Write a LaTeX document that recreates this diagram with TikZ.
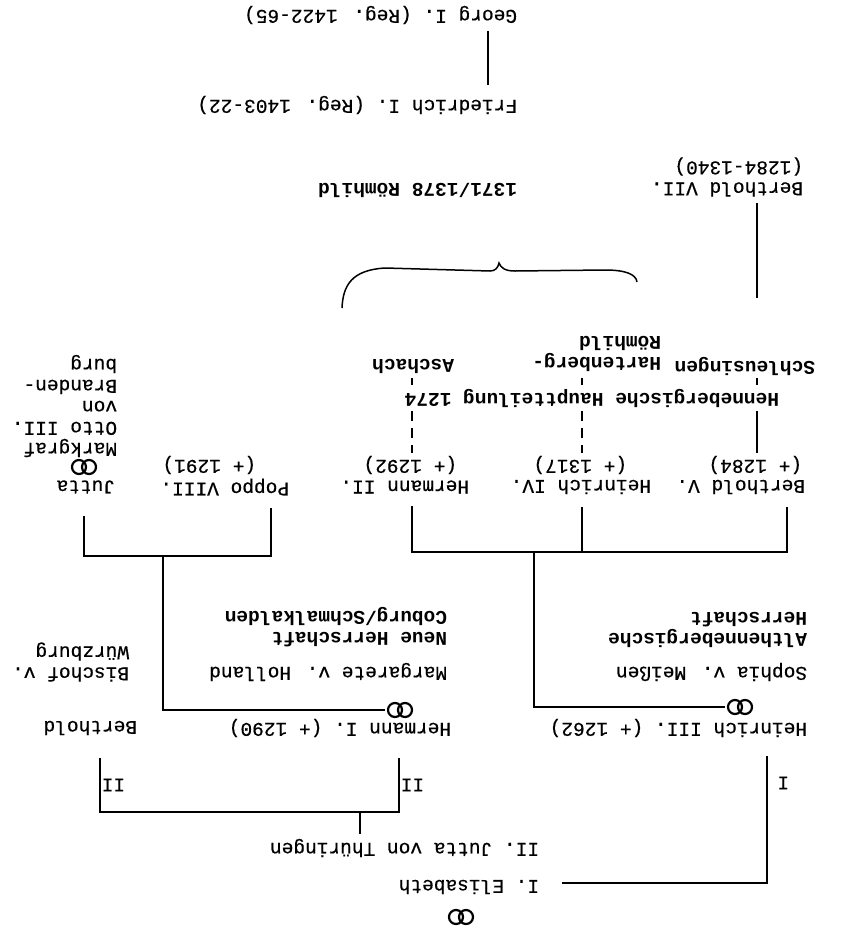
\documentclass[tikz,border=0pt]{standalone}
\usepackage{fontspec}
\newfontfamily\tw{Liberation Mono}[FakeBold=0.5]
\newfontfamily\twb{Liberation Mono Bold}
\usetikzlibrary{calc}

\begin{document}
\begin{tikzpicture}[x=1pt,y=-1pt,line width=1.8pt,
    pers/.style={rotate=180,anchor=west,inner sep=0pt,align=left,font=\tw\fontsize{19.5}{21}\selectfont},
    herr/.style={pers,font=\twb\fontsize{19.5}{21}\selectfont},
    teil/.style={dash pattern=on 10pt off 7pt},
    ehe/.pic={\draw[line width=2.2pt] (-5,0) circle (7) (5,0) circle (7);
      \coordinate (-w) at (-15,0);}]
  \useasboundingbox (0,0) rectangle (845,935);
  \fill[white] (0,0) rectangle (845,935);

  \node[pers] (georg) at (518,15) {Georg I. (Reg. 1422-65)};
  \node[pers] (friedrich) at (518,105) {Friedrich I. (Reg. 1403-22)};
  \node[herr] (rh) at (518,190) {1371/1378 Römhild};
  \coordinate (gx) at (488,0);
  \draw ($(georg.north-|gx)+(0,6)$) -- ($(friedrich.south-|gx)+(0,-10)$);

  \node[pers] (b7) at (804,177) {Berthold VII.\\(1284-1340)};
  \node[herr] (schl) at (816,366) {Schleusingen};
  \node[herr] (hart) at (662,354) {Hartenberg-\\Römhild};
  \node[herr] (asch) at (455,366) {Aschach};
  \node[herr] (teil) at (780,398) {Hennebergische Hauptteilung 1274};
  \coordinate (sx) at (757,0);
  \coordinate (hx) at (582,0);
  \coordinate (ax) at (412,0);
  \draw ($(b7.north-|sx)+(0,6)$) -- ($(schl.south-|sx)+(0,-58)$);
  \draw[line width=1.5pt] (342,308) .. controls (343,285) and (352,270) .. (385,268) -- (490,271)
    .. controls (495,271) and (498,268) .. (499,263) .. controls (501,268) and (505,271) .. (515,271)
    -- (605,270) .. controls (625,270) and (636,274) .. (637,282);
  \foreach \c in {sx,hx,ax}
    \draw ($(schl.north-|\c)+(0,2)$) -- ($(teil.south-|\c)+(0,-3)$);

  \foreach \nm/\x/\lab in {b5/806/{Berthold V.},h4/652/{Heinrich IV.},h2/470/{Hermann II.},p8/290/{Poppo VIII.},ju/116/{Jutta}}
    \node[pers] (\nm) at (\x,487) {\lab};
  \foreach \nm/\x/\lab in {y1284/803/{(+ 1284)},y1317/628/{(+ 1317)},y1292/458/{(+ 1292)},y1291/257/{(+ 1291)}}
    \node[pers] (\nm) at (\x,465) {\lab};
  \draw ($(teil.north-|sx)+(0,3)$) -- ($(y1284.south-|sx)+(0,-2)$);
  \draw[teil] ($(teil.north-|hx)+(0,3)$) -- ($(y1317.south-|hx)+(0,-2)$);
  \draw[teil] ($(teil.north-|ax)+(0,3)$) -- ($(y1292.south-|ax)+(0,-2)$);
  \pic (e1) at (84,467) {ehe};
  \node[pers] (mg) at (118,406) {Markgraf\\Otto III.\\von\\Branden-\\burg};

  \coordinate (bx) at (787,0);
  \coordinate (px) at (271,0);
  \coordinate (jux) at (84,0);
  \coordinate (bar1) at (0,552);
  \coordinate (bar2) at (0,556);
  \draw ($(b5.north-|bx)+(0,12)$) -- (bx|-bar1) -- (ax|-bar1) -- ($(h2.north-|ax)+(0,12)$);
  \draw ($(h4.north-|hx)+(0,12)$) -- (hx|-bar1);
  \draw ($(p8.north-|px)+(0,12)$) -- (px|-bar2) -- (jux|-bar2) -- ($(ju.north-|jux)+(0,22)$);

  \node[herr] (alt) at (808,630) {Althennebergische\\Herrschaft};
  \node[pers] (soph) at (808,672) {Sophia v. Meißen};
  \node[herr] (neu) at (448,627) {Neue Herrschaft\\Coburg/Schmalkalden};
  \node[pers] (marg) at (448,672) {Margarete v. Holland};
  \node[pers] (bisch) at (130,662) {Bischof v.\\Würzburg};
  \pic (er) at (740,707) {ehe};
  \pic (el) at (400,710) {ehe};
  \coordinate (dr) at (534,552);
  \coordinate (dl) at (163,556);
  \draw (dr) |- (er-w);
  \draw (dl) |- (el-w);

  \node[pers] (h3) at (808,728) {Heinrich III. (+ 1262)};
  \node[pers] (h1) at (452,728) {Hermann I. (+ 1290)};
  \node[pers] (bt) at (138,728) {Berthold};
  \node[pers] (jth) at (540,848) {II. Jutta von Thüringen};
  \node[pers] (elis) at (540,887) {I. Elisabeth};
  \pic (eb) at (461,917) {ehe};
  \node[pers] (n1) at (790,783) {I};
  \node[pers] (n2a) at (425,785) {II};
  \node[pers] (n2b) at (126,785) {II};
  \coordinate (h3x) at (767,0);
  \coordinate (h1x) at (399,0);
  \coordinate (btx) at (100,0);
  \coordinate (jx) at (360,0);
  \coordinate (jb) at (0,812);
  \draw ($(h3.north-|h3x)+(0,18)$) |- ($(elis.west)+(22,-4)$);
  \draw ($(h1.north-|h1x)+(0,20)$) -- (h1x|-jb) -- (btx|-jb) -- ($(bt.north-|btx)+(0,22)$);
  \draw (jx|-jb) -- ($(jth.south-|jx)+(0,-4)$);
\end{tikzpicture}
\end{document}
